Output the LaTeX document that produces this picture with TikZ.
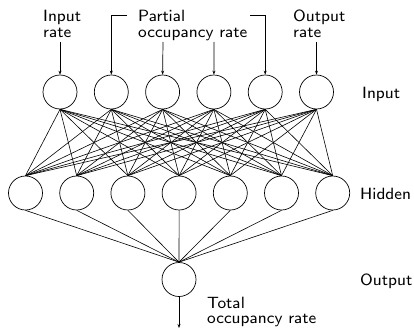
\documentclass[tikz,border=0pt]{standalone}
\usetikzlibrary{arrows.meta}
\font\lblf=cmss8 at 16.3pt
\begin{document}
\begin{tikzpicture}[x=1pt,y=-1pt,
  neuron/.style={draw,circle,minimum size=34pt,inner sep=0pt,line width=0.7pt},
  lbl/.style={font={\lblf\baselineskip=15.5pt},inner sep=0pt,align=left},
  conn/.style={line width=0.6pt},
  arr/.style={line width=0.7pt,-{Stealth[length=4pt,width=3pt]}}]
\useasboundingbox (0,0) rectangle (414,329);
% input layer
\foreach \k in {1,...,6}
  \node[neuron] (i\k) at ({60+51.3*(\k-1)},92) {};
% hidden layer
\foreach \k in {1,...,7}
  \node[neuron] (h\k) at ({25.5+51.2*(\k-1)},193) {};
% output
\node[neuron] (o) at (179,279.5) {};
% connections
\foreach \a in {1,...,6}
  \foreach \b in {1,...,7}
    \draw[conn] (i\a.south) -- (h\b.north);
\foreach \b in {1,...,7}
  \draw[conn] (h\b.south) -- (o.north);
% top labels
\node[lbl,anchor=north west] (tin) at (43,10) {Input\\rate};
\node[lbl,anchor=north west] (tpart) at (138,10) {Partial\\occupancy rate};
\node[lbl,anchor=north west] (tout) at (293,10) {Output\\rate};
% input arrows
\coordinate (s1) at (60,42);
\coordinate (s3) at (163,42);
\coordinate (s4) at (214,42);
\coordinate (s6) at (316.5,42);
\coordinate (bl) at (127,15);
\coordinate (br) at (250,15);
\draw[arr] (s1) -- (i1.north);
\draw[arr] (s3) -- (i3.north);
\draw[arr] (s4) -- (i4.north);
\draw[arr] (s6) -- (i6.north);
\draw[arr] (bl) -| (i2.north);
\draw[arr] (br) -| (i5.north);
% layer labels
\node[lbl,anchor=base west] (lin) at (362,98) {Input};
\node[lbl,anchor=base west] (lhid) at (360,199) {Hidden};
\node[lbl,anchor=base west] (lout) at (360,285) {Output};
% output arrow
\coordinate (oend) at (179,328);
\draw[arr] (o.south) -- (oend);
\node[lbl,anchor=north west] (ttot) at (207,296.5) {Total\\occupancy rate};
\end{tikzpicture}
\end{document}
